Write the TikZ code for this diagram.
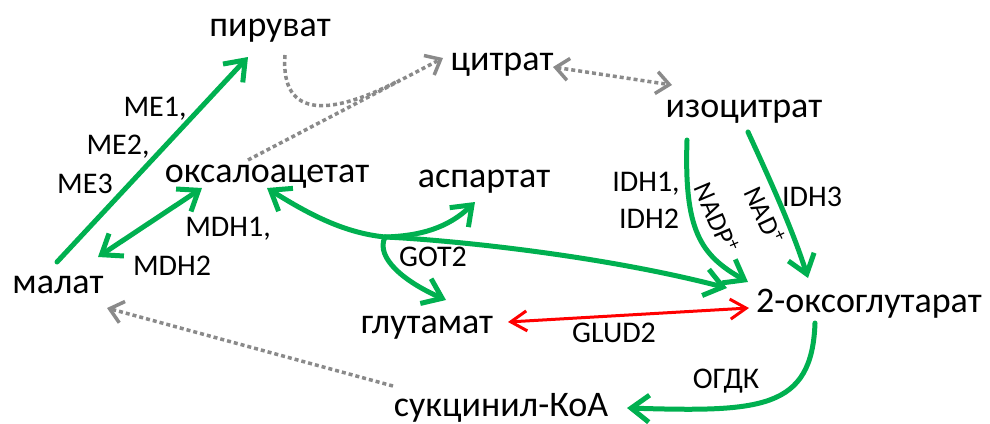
\documentclass[tikz,border=0pt]{standalone}
\usepackage{fontspec}
\setmainfont{Carlito}
\usetikzlibrary{arrows.meta}
\definecolor{grn}{HTML}{00B050}
\definecolor{gry}{HTML}{8A8A8A}
\definecolor{rd}{HTML}{FF0000}
\tikzset{
  met/.style={font=\fontsize{36}{40}\selectfont, anchor=base, inner sep=0pt},
  enz/.style={font=\fontsize{30}{34}\selectfont, anchor=base, inner sep=0pt},
  cof/.style={font=\fontsize{27}{30}\selectfont, inner sep=0pt},
  gtip/.tip={Straight Barb[length=18pt,width=27pt,line width=5pt]},
  greytip/.tip={Straight Barb[length=13pt,width=22pt,line width=3.5pt]},
  redtip/.tip={Straight Barb[length=16pt,width=20pt,line width=3pt]},
  garrow/.style={draw=grn, line width=5pt, line cap=round},
  dotline/.style={draw=gry, line width=3.5pt, dash pattern=on 4pt off 3pt},
  redline/.style={draw=rd, line width=3pt},
}
\begin{document}
\begin{tikzpicture}[x=1pt,y=-1pt]
\useasboundingbox (0,0) rectangle (990,423);
% metabolites
\node[met] (pyr) at (270,36) {пируват};
\node[met] (cit) at (502,70) {цитрат};
\node[met] (iso) at (744,117) {изоцитрат};
\node[met] (oaa) at (267,182) {оксалоацетат};
\node[met] (asp) at (484,187) {аспартат};
\node[met] (mal) at (58,293) {малат};
\node[met] (glu) at (427,333) {глутамат};
\node[met] (akg) at (869,312) {2-оксоглутарат};
\node[met] (suc) at (501,416) {сукцинил-КоА};
% enzymes
\node[enz] (me1) at (155,116) {ME1,};
\node[enz] (me2) at (118,154) {ME2,};
\node[enz] (me3) at (85,193) {ME3};
\node[enz] (mdh1) at (228,236) {MDH1,};
\node[enz] (mdh2) at (172,275) {MDH2};
\node[enz] (got) at (433,266) {GOT2};
\node[enz] (idh1) at (646,191) {IDH1,};
\node[enz] (idh2) at (649,228) {IDH2};
\node[enz] (idh3) at (812,206) {IDH3};
\node[enz] (glud) at (614,342) {GLUD2};
\node[enz] (ogdk) at (726,388) {ОГДК};
\node[cof, rotate=-67] (nadp) at (717,218) {NADP\textsuperscript{+}};
\node[cof, rotate=-65] (nad) at (765,215) {NAD\textsuperscript{+}};
% connector end points
\coordinate (malme) at (57,262); \coordinate (pyrme) at (248,57);
\coordinate (malmdh) at (98,257); \coordinate (oaamdh) at (202,188);
\coordinate (pyrout) at (285,55); \coordinate (merge) at (400,80);
\coordinate (oaaout) at (248,160); \coordinate (citin) at (443,58);
\coordinate (citr) at (553,67); \coordinate (isol) at (672,85);
\coordinate (isoa) at (687,140); \coordinate (akga) at (748,282);
\coordinate (isob) at (748,132); \coordinate (akgb) at (808,278);
\coordinate (oaagot) at (267,188); \coordinate (xgot) at (385,237); \coordinate (akggot) at (727,288);
\coordinate (aspin) at (475,202); \coordinate (gluin) at (446,300);
\coordinate (glur) at (508,322); \coordinate (akgglud) at (749,308);
\coordinate (akgout) at (815,323); \coordinate (sucin) at (627,408);
\coordinate (sucout) at (393,386); \coordinate (malin) at (107,308);
% grey dotted
\draw[dotline, -greytip] (oaaout) -- (citin);
\draw[dotline] (pyrout) .. controls (280,122) and (335,114) .. (merge);
\draw[dotline, greytip-greytip] (citr) -- (isol);
\draw[dotline, -greytip] (sucout) -- (malin);
% green
\draw[garrow, -gtip] (malme) -- (pyrme);
\draw[garrow, gtip-gtip] (malmdh) -- (oaamdh);
\draw[garrow, -gtip] (isoa) .. controls (684,230) and (700,255) .. (akga);
\draw[garrow, -gtip] (isob) .. controls (770,180) and (792,228) .. (akgb);
\draw[garrow, gtip-gtip] (oaagot) .. controls (310,215) and (345,233) .. (xgot) .. controls (450,240) and (600,255) .. (akggot);
\draw[garrow, -gtip] (xgot) .. controls (420,236) and (448,228) .. (aspin);
\draw[garrow, -gtip] (xgot) .. controls (375,258) and (405,282) .. (gluin);
\draw[garrow, -gtip] (akgout) .. controls (812,410) and (760,412) .. (sucin);
% red
\draw[redline, redtip-redtip] (glur) -- (akgglud);
\end{tikzpicture}
\end{document}
